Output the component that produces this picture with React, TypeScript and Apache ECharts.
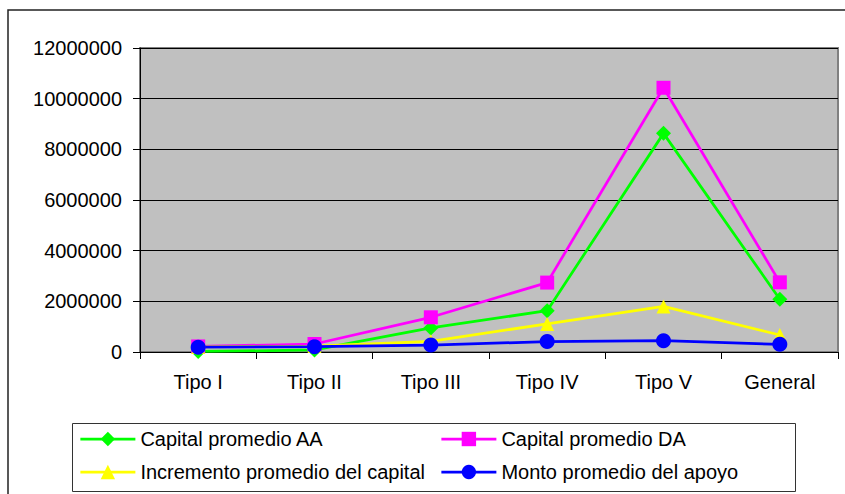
import React, { useEffect, useRef } from "react";
import * as echarts from "echarts";

const categories = ["Tipo I", "Tipo II", "Tipo III", "Tipo IV", "Tipo V", "General"];
const capitalAA = [20000, 80000, 950000, 1630000, 8630000, 2080000];
const capitalDA = [220000, 315000, 1370000, 2740000, 10430000, 2750000];
const incremento = [200000, 235000, 420000, 1110000, 1800000, 670000];
const monto = [190000, 210000, 276000, 410000, 446000, 303000];
const seriesNames = [
  "Capital promedio AA",
  "Capital promedio DA",
  "Incremento promedio del capital",
  "Monto promedio del apoyo",
];

const FONT = "'Liberation Sans', Arial, sans-serif";

export default function App() {
  const ref = useRef<HTMLDivElement>(null);
  useEffect(() => {
    if (!ref.current) return;
    const chart = echarts.init(ref.current, null, { renderer: "svg" });
    const mk = (name: string, data: number[], color: string, symbol: string, size: number) => ({
      name,
      type: "line",
      data,
      symbol,
      symbolSize: size,
      lineStyle: { color, width: 2.75 },
      itemStyle: { color, borderWidth: 0 },
      z: 3,
    });
    const legendCommon = {
      orient: "vertical",
      itemWidth: 55,
      itemHeight: 18,
      itemGap: 13,
      textStyle: { fontFamily: FONT, fontSize: 20, color: "#000" },
      lineStyle: { width: 2.75 },
      selectedMode: false,
      padding: 0,
    };
    chart.setOption({
      animation: false,
      backgroundColor: "#fff",
      grid: {
        left: 140,
        top: 48,
        right: 7,
        bottom: 142,
        show: true,
        backgroundColor: "#C0C0C0",
        borderColor: "#808080",
        borderWidth: 2,
        containLabel: false,
        outerBoundsMode: "none",
      },
      xAxis: {
        type: "category",
        data: categories,
        boundaryGap: true,
        axisLine: { show: true, lineStyle: { color: "#000", width: 1 } },
        axisTick: { show: true, inside: false, length: 7, lineStyle: { color: "#000" } },
        axisLabel: { fontFamily: FONT, fontSize: 20, color: "#000", margin: 20, interval: 0 },
        splitLine: { show: false },
      },
      yAxis: {
        type: "value",
        min: 0,
        max: 12000000,
        interval: 2000000,
        axisLine: { show: true, lineStyle: { color: "#000", width: 1 } },
        axisTick: { show: true, inside: false, length: 7, lineStyle: { color: "#000" } },
        axisLabel: {
          fontFamily: FONT,
          fontSize: 20,
          color: "#000",
          margin: 18,
          formatter: (v: number) => String(v),
        },
        splitLine: { show: true, lineStyle: { color: "#000", width: 1 } },
      },
      legend: [
        { ...legendCommon, left: 79, top: 429, data: [seriesNames[0], seriesNames[2]] },
        { ...legendCommon, left: 440, top: 429, data: [seriesNames[1], seriesNames[3]] },
      ],
      graphic: [
        {
          type: "rect",
          shape: { x: 8, y: 10, width: 900, height: 600 },
          style: { fill: "none", stroke: "#222", lineWidth: 1.5 },
          silent: true,
          z: -10,
        },
        {
          type: "rect",
          shape: { x: 72.5, y: 423.5, width: 723, height: 68 },
          style: { fill: "none", stroke: "#333", lineWidth: 1 },
          silent: true,
        },
      ],
      series: [
        mk(seriesNames[0], capitalAA, "#00FF00", "diamond", 15),
        mk(seriesNames[1], capitalDA, "#FF00FF", "rect", 14),
        mk(seriesNames[2], incremento, "#FFFF00", "triangle", 14),
        mk(seriesNames[3], monto, "#0000FF", "circle", 15),
      ],
    });
    return () => chart.dispose();
  }, []);
  return (
    <div
      ref={ref}
      style={{ position: "fixed", left: 0, top: 0, width: 845, height: 494 }}
    />
  );
}
